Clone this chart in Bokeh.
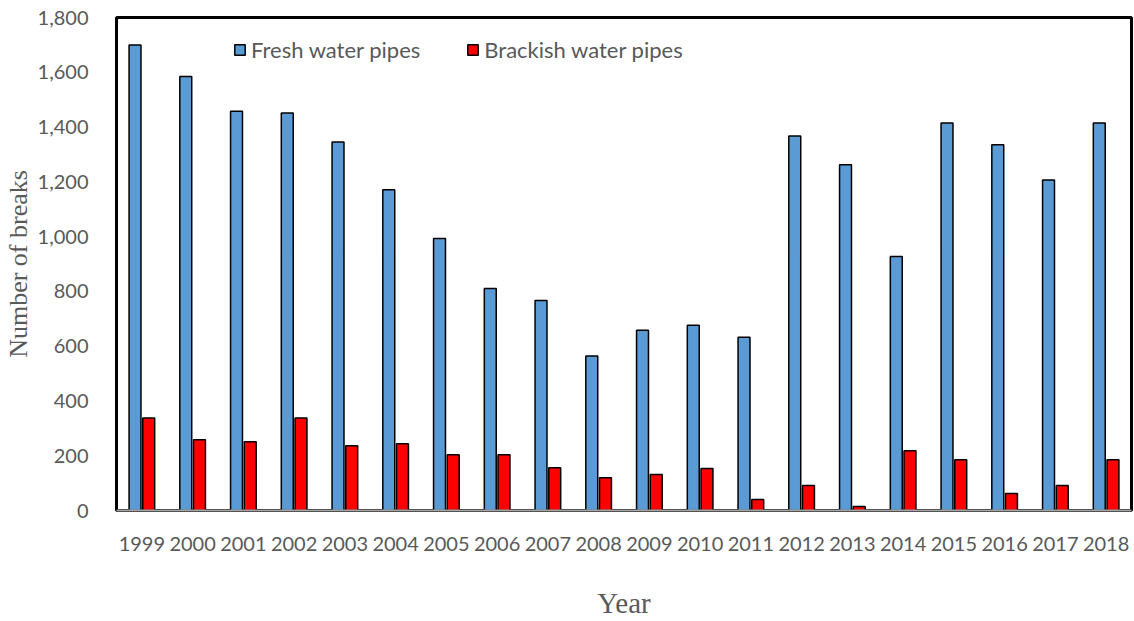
from bokeh.plotting import figure
from bokeh.models import ColumnDataSource, Legend, LegendItem, NumeralTickFormatter, FixedTicker
from bokeh.transform import dodge
from bokeh.embed import file_html
from bokeh.resources import INLINE

years = [str(y) for y in range(1999, 2019)]
fresh = [1700, 1585, 1458, 1451, 1345, 1171, 993, 811, 767, 564,
         658, 676, 633, 1367, 1262, 927, 1415, 1335, 1207, 1415]
brackish = [338, 258, 251, 338, 236, 244, 204, 204, 156, 120,
            131, 153, 40, 91, 15, 218, 185, 62, 91, 185]

src = ColumnDataSource(dict(year=years, fresh=fresh, brackish=brackish))

p = figure(x_range=years, y_range=(0, 1800), width=1134, height=621,
           output_backend="svg", toolbar_location=None,
           min_border_left=115, min_border_right=3, min_border_top=17, min_border_bottom=109)

r1 = p.vbar(x=dodge("year", -0.135, range=p.x_range), top="fresh", width=0.235, source=src,
            fill_color="#5B9BD5", line_color="black", line_width=1.5)
r2 = p.vbar(x=dodge("year", 0.135, range=p.x_range), top="brackish", width=0.235, source=src,
            fill_color="#FF0000", line_color="black", line_width=1.5)

p.xgrid.grid_line_color = None
p.ygrid.grid_line_color = None
p.outline_line_color = "black"
p.outline_line_width = 3
p.x_range.range_padding = 0
p.x_range.factor_padding = 0

p.yaxis.ticker = FixedTicker(ticks=list(range(0, 1801, 200)))
p.yaxis.formatter = NumeralTickFormatter(format="0,0")
for ax in (p.xaxis, p.yaxis):
    ax.major_tick_line_color = None
    ax.minor_tick_line_color = None
    ax.major_label_text_font = "Lato"
    ax.major_label_text_font_size = "20px"
    ax.major_label_text_color = "#595959"
    ax.axis_label_text_font = "Liberation Serif"
    ax.axis_label_text_font_size = "26px"
    ax.axis_label_text_font_style = "normal"
    ax.axis_label_text_color = "#595959"
p.xaxis.axis_label_text_font_size = "29px"
p.yaxis.axis_line_color = None
p.xaxis.axis_line_color = "#A6A6A6"
p.xaxis.axis_line_width = 2
p.yaxis.major_label_standoff = 22
p.xaxis.major_label_standoff = 20
p.yaxis.axis_label = "Number of breaks"
p.xaxis.axis_label = "Year"
p.xaxis.axis_label_standoff = 33
p.yaxis.axis_label_standoff = 2

legend = Legend(items=[LegendItem(label="Fresh water pipes", renderers=[r1]),
                       LegendItem(label="Brackish water pipes", renderers=[r2])],
                orientation="horizontal", location=(117, 447),
                label_text_font="Lato", label_text_font_size="22px",
                label_text_color="#595959", glyph_width=13, glyph_height=13,
                label_standoff=5, spacing=46, border_line_color=None,
                background_fill_alpha=0, padding=2, margin=0)
p.add_layout(legend, "center")

open("out.html", "w").write(file_html(p, INLINE))
